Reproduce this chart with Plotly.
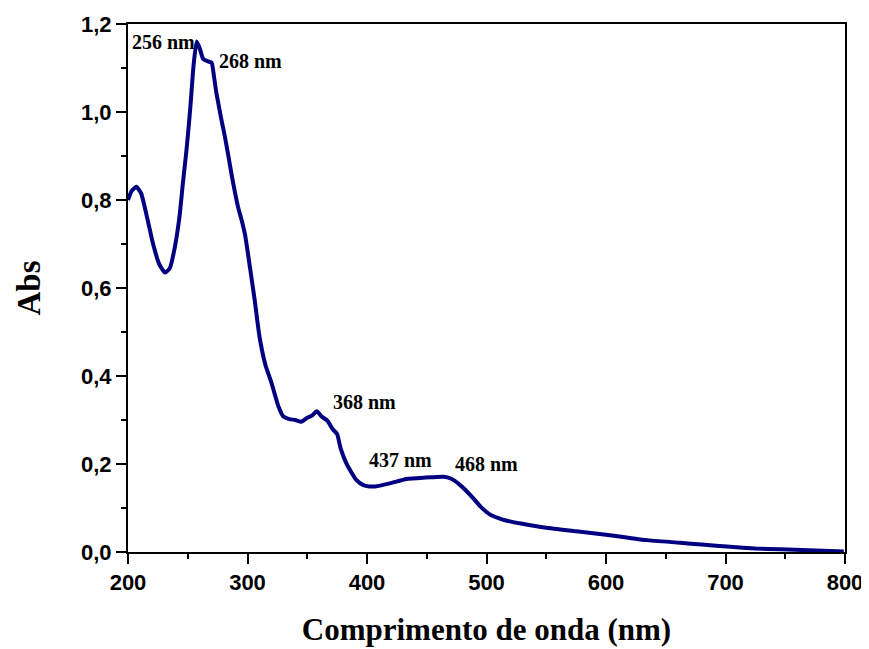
import plotly.graph_objects as go

wavelength = [200, 203, 207, 211, 216, 221, 226, 231, 235, 239, 243, 246, 249, 252, 255, 257.5,
              260, 263, 267, 270, 272, 274, 278, 281, 284, 287, 292, 295, 298, 302, 306, 310,
              315, 320, 326, 330, 335, 340, 345, 350, 354, 358, 362, 367, 371, 375, 378, 383,
              391, 397, 402, 407, 419, 433, 447, 456, 464, 470, 478, 489, 495, 503, 510, 517,
              530, 550, 575, 600, 620, 634, 662, 680, 704, 725, 746, 770, 799]
absorbance = [0.80, 0.82, 0.83, 0.815, 0.76, 0.70, 0.655, 0.635, 0.645, 0.69, 0.76, 0.84, 0.915,
              1.005, 1.11, 1.16, 1.145, 1.12, 1.115, 1.112, 1.08, 1.043, 0.985, 0.945, 0.90,
              0.853, 0.785, 0.755, 0.72, 0.648, 0.573, 0.49, 0.425, 0.385, 0.33, 0.308, 0.302,
              0.30, 0.296, 0.305, 0.31, 0.32, 0.308, 0.298, 0.28, 0.268, 0.235, 0.20, 0.164,
              0.152, 0.149, 0.149, 0.156, 0.166, 0.169, 0.17, 0.171, 0.167, 0.152, 0.122, 0.103,
              0.085, 0.077, 0.071, 0.064, 0.055, 0.047, 0.039, 0.032, 0.027, 0.021, 0.017, 0.012,
              0.008, 0.006, 0.004, 0.001]

peak_labels = ["256 nm", "268 nm", "368 nm", "437 nm", "468 nm"]
label_x = [201.7, 274.5, 369.6, 399.7, 472.2]
label_y = [1.160, 1.116, 0.342, 0.209, 0.200]

fig = go.Figure()
fig.add_trace(go.Scatter(x=wavelength, y=absorbance, mode="lines",
                         line=dict(color="#000080", width=4, shape="spline", smoothing=0.5),
                         showlegend=False, hoverinfo="skip"))

for t, x, y in zip(peak_labels, label_x, label_y):
    fig.add_annotation(x=x, y=y, text="<b>" + t + "</b>", showarrow=False,
                       xanchor="left", yanchor="middle",
                       font=dict(family="Liberation Serif", size=20, color="black"))

axis_common = dict(showline=True, linecolor="black", linewidth=2, mirror=True,
                   ticks="outside", ticklen=10, tickwidth=2, tickcolor="black",
                   showgrid=False, zeroline=False, automargin=False,
                   ticklabeloverflow="allow",
                   tickfont=dict(family="Liberation Sans", size=22, color="black", weight="bold"))

fig.update_xaxes(range=[200, 800], dtick=100, tick0=200,
                 minor=dict(dtick=50, ticks="outside", ticklen=5, tickwidth=2, tickcolor="black"),
                 title=dict(text="<b>Comprimento de onda (nm)</b>", standoff=24,
                            font=dict(family="Liberation Serif", size=31, color="black")),
                 **axis_common)
fig.update_yaxes(range=[0, 1.2], dtick=0.2, tick0=0, tickformat=".1f",
                 minor=dict(dtick=0.1, ticks="outside", ticklen=5, tickwidth=2, tickcolor="black"),
                 title=dict(text="<b>Abs</b>", standoff=30,
                            font=dict(family="Liberation Serif", size=33, color="black")),
                 **axis_common)

fig.update_layout(width=869, height=649, margin=dict(l=120, r=32, t=16, b=105),
                  plot_bgcolor="white", paper_bgcolor="white", separators=", ")

fig.write_html("out.html")
